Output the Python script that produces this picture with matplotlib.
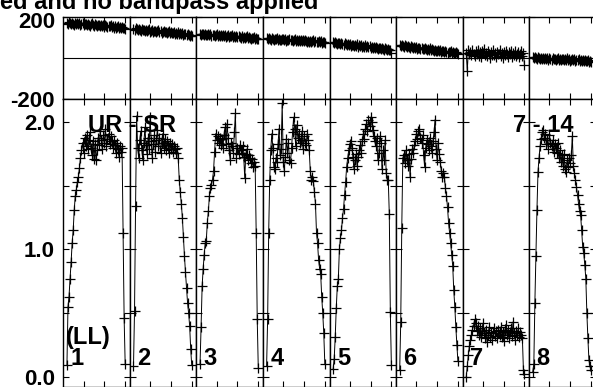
import matplotlib
matplotlib.use("Agg")
import matplotlib.pyplot as plt
from matplotlib.ticker import FixedLocator, FormatStrFormatter
from matplotlib.transforms import ScaledTranslation

plt.rcParams['font.family'] = ['Liberation Sans', 'DejaVu Sans']
plt.rcParams['font.weight'] = 'bold'
plt.rcParams['axes.unicode_minus'] = False

W, H, DPI = 593, 387, 100

# 每個 IF 畫 4..60 頻道
CHANNELS = list(range(4, 61))

AMP_IF1 = [0.09, 0.55, 0.63, 0.77, 0.90, 1.05, 1.15, 1.31, 1.42, 1.47,
           1.53, 1.57, 1.64, 1.72, 1.78, 1.84, 1.76, 1.88, 1.81, 1.90,
           1.79, 1.86, 1.92, 1.80, 1.74, 1.85, 1.71, 1.83, 1.70, 1.78,
           1.88, 1.82, 1.93, 1.86, 1.79, 1.90, 1.84, 1.95, 1.81, 1.87,
           1.91, 1.83, 1.89, 1.85, 1.80, 1.86, 1.82, 1.76, 1.84, 1.79,
           1.73, 1.81, 1.77, 1.80, 1.13, 0.46, 0.10]
AMP_IF2 = [0.08, 0.52, 1.34, 2.05, 1.80, 1.72, 1.86, 1.93, 1.78, 1.70,
           1.84, 1.96, 1.82, 1.75, 1.88, 1.79, 2.04, 1.85, 1.72, 1.83,
           1.90, 1.77, 1.86, 1.94, 1.81, 1.88, 1.76, 1.84, 1.91, 1.80,
           1.87, 1.78, 1.85, 1.82, 1.76, 1.84, 1.79, 1.83, 1.77, 1.81,
           1.79, 1.76, 1.80, 1.72, 1.55, 1.45, 1.36, 1.25, 1.10, 0.95,
           0.82, 0.70, 0.58, 0.50, 0.40, 0.22, 0.09]
AMP_IF3 = [0.10, 0.39, 0.71, 0.85, 0.96, 1.05, 1.07, 1.21, 1.30, 1.42,
           1.48, 1.51, 1.55, 1.62, 1.77, 1.91, 1.86, 1.89, 1.84, 1.88,
           1.82, 1.87, 1.80, 1.90, 1.96, 1.83, 1.99, 1.88, 1.78, 1.70,
           1.84, 1.81, 1.76, 1.92, 2.07, 1.72, 1.80, 1.75, 1.82, 1.78,
           1.76, 1.81, 1.73, 1.56, 1.75, 1.79, 1.70, 1.74, 1.72, 1.68,
           1.71, 1.65, 1.69, 1.66, 1.13, 0.45, 0.07]
AMP_IF4 = [0.08, 0.45, 1.13, 1.55, 1.78, 1.91, 1.80, 1.65, 1.63, 1.72,
           1.69, 1.83, 1.95, 1.74, 1.79, 2.15, 1.69, 1.62, 1.73, 1.87,
           1.76, 1.84, 1.70, 1.68, 1.80, 1.92, 2.04, 1.95, 1.81, 1.98,
           1.88, 1.91, 1.84, 1.86, 1.93, 1.79, 1.89, 1.84, 1.82, 1.91,
           1.86, 1.78, 1.62, 1.55, 1.57, 1.54, 1.45, 1.36, 1.13, 1.05,
           0.92, 0.85, 0.81, 0.63, 0.50, 0.34, 0.10]
AMP_IF5 = [0.06, 0.14, 0.31, 0.54, 0.71, 0.77, 1.00, 1.09, 1.15, 1.25,
           1.32, 1.43, 1.53, 1.65, 1.72, 1.78, 1.83, 1.85, 1.80, 1.73,
           1.63, 1.70, 1.75, 1.66, 1.73, 1.78, 1.82, 1.76, 1.85, 1.91,
           1.87, 1.95, 1.99, 1.93, 2.02, 1.97, 2.04, 2.00, 1.94, 1.89,
           1.85, 1.81, 1.88, 1.70, 1.76, 1.89, 1.84, 1.63, 1.78, 1.70,
           1.86, 1.60, 1.55, 1.55, 1.28, 0.51, 0.09]
AMP_IF6 = [0.05, 0.43, 1.17, 1.72, 1.74, 1.68, 1.78, 1.70, 1.66, 1.75,
           1.57, 1.71, 1.79, 1.76, 1.82, 1.85, 1.91, 1.87, 1.93, 1.95,
           1.88, 1.84, 1.90, 1.74, 1.65, 1.80, 1.86, 1.83, 1.78, 1.88,
           1.81, 1.76, 1.85, 1.92, 2.02, 1.79, 1.70, 1.84, 1.75, 1.69,
           1.62, 1.57, 1.60, 1.57, 1.48, 1.42, 1.33, 1.21, 1.13, 1.05,
           0.96, 0.87, 0.68, 0.55, 0.39, 0.25, 0.12]
AMP_IF7 = [0.00, 0.08, 0.17, 0.24, 0.29, 0.33, 0.37, 0.40, 0.45, 0.42,
           0.36, 0.40, 0.33, 0.38, 0.31, 0.36, 0.42, 0.34, 0.30, 0.37,
           0.27, 0.33, 0.39, 0.31, 0.35, 0.29, 0.34, 0.38, 0.32, 0.36,
           0.30, 0.37, 0.33, 0.39, 0.31, 0.35, 0.28, 0.36, 0.41, 0.33,
           0.37, 0.30, 0.35, 0.38, 0.32, 0.43, 0.34, 0.29, 0.36, 0.33,
           0.38, 0.31, 0.35, 0.33, 0.30, 0.05, 0.02]
AMP_IF8 = [0.04, 0.10, 0.58, 0.95, 1.31, 1.61, 1.72, 1.81, 1.87, 1.92,
           1.94, 1.88, 1.91, 1.83, 1.86, 1.79, 1.90, 1.84, 1.81, 1.86,
           1.77, 1.83, 1.80, 1.76, 1.84, 1.72, 1.78, 1.69, 1.74, 1.66,
           1.75, 1.63, 1.61, 1.70, 1.65, 1.72, 1.68, 1.74, 1.89, 1.66,
           1.60, 1.55, 1.49, 1.43, 1.36, 1.30, 1.27, 1.15, 1.02, 0.97,
           0.88, 0.77, 0.50, 0.30, 0.13, 0.08, 0.05]

PHASE_IF1 = [172, 168, 175, 170, 166, 173, 169, 164, 171, 167,
             174, 165, 170, 163, 168, 172, 161, 166, 169, 160,
             167, 164, 158, 165, 170, 162, 159, 166, 161, 157,
             164, 160, 155, 162, 158, 163, 154, 160, 156, 151,
             159, 155, 161, 152, 157, 150, 155, 149, 153, 158,
             148, 151, 146, 153, 147, 150, 144]
PHASE_IF2 = [143, 139, 146, 141, 137, 144, 138, 135, 142, 136,
             140, 133, 138, 131, 136, 141, 130, 134, 137, 129,
             135, 132, 127, 133, 138, 128, 131, 125, 130, 134,
             126, 129, 123, 128, 132, 122, 127, 121, 125, 129,
             119, 124, 120, 126, 117, 122, 118, 123, 115, 120,
             116, 112, 118, 113, 109, 115, 110]
PHASE_IF3 = [118, 114, 120, 116, 112, 119, 115, 111, 117, 113,
             119, 110, 115, 112, 108, 114, 117, 109, 113, 106,
             112, 108, 114, 107, 111, 105, 110, 113, 104, 109,
             106, 111, 103, 108, 105, 110, 102, 107, 104, 100,
             106, 101, 105, 99, 103, 107, 98, 102, 100, 96,
             101, 97, 103, 95, 99, 96, 94]
PHASE_IF4 = [97, 93, 99, 95, 91, 98, 94, 90, 96, 92,
             97, 89, 94, 91, 87, 93, 96, 88, 92, 86,
             91, 88, 94, 87, 90, 85, 89, 92, 84, 88,
             86, 90, 83, 88, 85, 89, 82, 87, 84, 80,
             86, 81, 85, 79, 83, 87, 78, 82, 80, 77,
             82, 78, 84, 76, 80, 77, 75]
PHASE_IF5 = [77, 73, 79, 74, 70, 76, 72, 68, 75, 70,
             66, 72, 68, 63, 69, 65, 71, 61, 66, 63,
             59, 65, 61, 67, 57, 62, 58, 64, 55, 60,
             56, 62, 53, 58, 54, 60, 51, 56, 52, 57,
             49, 54, 50, 46, 52, 48, 44, 50, 46, 42,
             48, 44, 40, 46, 41, 38, 23]
PHASE_IF6 = [63, 59, 65, 60, 56, 62, 58, 54, 60, 55,
             52, 58, 53, 49, 55, 51, 57, 47, 52, 49,
             45, 51, 47, 43, 49, 44, 40, 46, 42, 48,
             38, 44, 40, 36, 42, 37, 33, 39, 35, 41,
             31, 37, 33, 29, 35, 30, 26, 32, 28, 34,
             25, 31, 27, 23, 29, 24, 22]
PHASE_IF7 = [25, -63, 38, 20, 31, 14, 42, 22, 9, 35,
             18, 40, 12, 28, 5, 33, 24, 44, 16, 27,
             10, 36, 21, 3, 30, 17, 39, 13, 26, 8,
             32, 19, 41, 11, 25, 2, 29, 15, 37, 20,
             7, 31, 18, 34, 4, 26, 13, 35, 9, 22,
             28, 6, 19, 33, 11, 24, -34]
PHASE_IF8 = [4, 0, 6, 1, -3, 5, -1, -5, 2, -2,
             3, -6, 0, -4, 2, -7, -1, -3, -8, 0,
             -5, -2, -9, -3, 1, -7, -4, -10, -2, -6,
             -11, -4, -8, -1, -9, -5, -12, -7, -3, -10,
             -6, -13, -8, -11, -4, -14, -9, -12, -7, -15,
             -10, -16, -12, -8, -17, -13, -18]

AMPS = [AMP_IF1, AMP_IF2, AMP_IF3, AMP_IF4, AMP_IF5, AMP_IF6, AMP_IF7, AMP_IF8]
PHASES = [PHASE_IF1, PHASE_IF2, PHASE_IF3, PHASE_IF4,
          PHASE_IF5, PHASE_IF6, PHASE_IF7, PHASE_IF8]
IF_LABELS = ['1', '2', '3', '4', '5', '6', '7', '8']

PHASE_TICKS = [-200, 200]
AMP_TICKS = [0.0, 1.0, 2.0]
AMP_MINOR = [0.5, 1.5]
CHAN_TICKS = [20, 40, 60]

# 版面 (像素)
X0, PW = 63.3, 66.55
Y_TOP, Y_MID, Y_BOT = 17.3, 99.0, 386.7
FS = 17


def rect(x0, y0, x1, y1):
    return [x0 / W, 1 - y1 / H, (x1 - x0) / W, (y1 - y0) / H]


def fig_text(fig, x, y, s, **kw):
    fig.text(x / W, 1 - y / H, s, fontsize=FS, fontweight='bold',
             va='baseline', **kw)


def style_axes(ax, first):
    ax.set_xlim(0.5, 64.5)
    ax.xaxis.set_major_locator(FixedLocator(CHAN_TICKS))
    ax.tick_params(which='both', direction='in', top=True, right=True,
                   bottom=True, left=True, length=4, width=0.8,
                   labelbottom=False, labelleft=first, labelsize=16, pad=6)
    for sp in ax.spines.values():
        sp.set_linewidth(1.0)


fig = plt.figure(figsize=(W / DPI, H / DPI), dpi=DPI)

for i in range(8):
    left = X0 + i * PW
    axp = fig.add_axes(rect(left, Y_TOP, left + PW, Y_MID))
    axa = fig.add_axes(rect(left, Y_MID, left + PW, Y_BOT))

    axp.plot(CHANNELS, PHASES[i], color='black', lw=0.7,
             marker='+', ms=7, mew=0.9)
    axp.axhline(0, color='black', lw=0.8)
    axp.set_ylim(-200, 200)
    axp.set_yticks(PHASE_TICKS)
    style_axes(axp, i == 0)

    axa.plot(CHANNELS, AMPS[i], color='black', lw=0.7,
             marker='+', ms=7, mew=0.9)
    axa.set_ylim(-0.079, 2.183)
    axa.set_yticks(AMP_TICKS)
    axa.yaxis.set_minor_locator(FixedLocator(AMP_MINOR))
    axa.yaxis.set_major_formatter(FormatStrFormatter('%.1f'))
    style_axes(axa, i == 0)

    if i == 0:
        lab = axp.yaxis.get_major_ticks()[1].label1
        lab.set_transform(lab.get_transform()
                          + ScaledTranslation(0, -3 / DPI, fig.dpi_scale_trans))

    fig_text(fig, left + 7.5, 365, IF_LABELS[i], ha='left')

fig_text(fig, 318, 8.5, 'ed and no bandpass applied', ha='right')
fig_text(fig, 87.7, 132.3, 'UR - SR', ha='left')
fig_text(fig, 513.3, 132.3, '7 - 14', ha='left')
fig_text(fig, 66.0, 344, '(LL)', ha='left')

fig.savefig('out.png', dpi=DPI)
